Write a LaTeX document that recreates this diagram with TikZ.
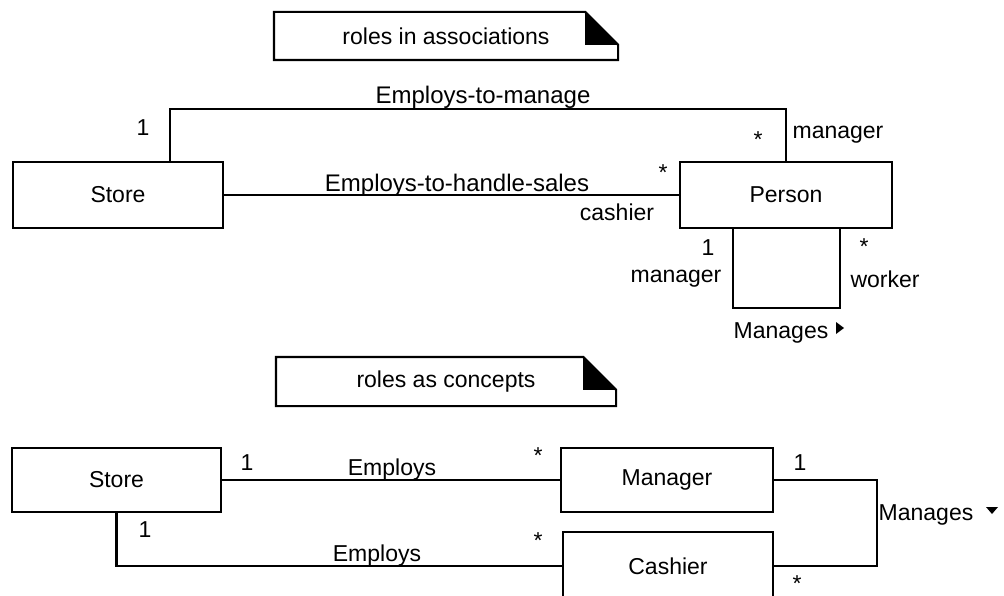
\documentclass[tikz,border=0pt]{standalone}
\usepackage{fontspec}
\setmainfont{Liberation Sans}
\begin{document}
\begin{tikzpicture}[x=1pt,y=-1pt,line width=2.2pt,
  every node/.style={font=\fontsize{23}{27}\selectfont,inner sep=0pt},
  cls/.style={draw,line width=2.2pt,minimum width=#1,minimum height=66pt},
  lbl/.style={anchor=center},
  assoc/.style={anchor=base},
  biglbl/.style={font=\fontsize{24}{28}\selectfont},
  notebox/.style={minimum width=342pt,minimum height=46pt}]
\useasboundingbox (0,0) rectangle (1004,596);
\begin{scope}
\clip (0,0) rectangle (1004,596);
% ---------- roles in associations ----------
\node[notebox] (note1) at (446,36) {roles in associations};
\draw (note1.north west) -- ([xshift=-33pt]note1.north east) -- ([yshift=-33pt]note1.north east) -- (note1.south east) -- (note1.south west) -- cycle;
\fill ([xshift=-33pt]note1.north east) -- ([xshift=-33pt,yshift=-33pt]note1.north east) -- ([yshift=-33pt]note1.north east) -- cycle;

\node[cls=210pt] (store1) at (118,195) {Store};
\node[cls=212pt] (person) at (786,195) {Person};

\draw ([xshift=52pt]store1.north) -- ++(0,-52) -| (person.north);
\draw (store1.east) -- (person.west);
\draw ([xshift=-53pt]person.south) -- ++(0,79) -| ([xshift=54pt]person.south);

\node[assoc,biglbl] (em1) at (483,104) {Employs-to-manage};
\node[assoc,biglbl] (eh1) at (457,192) {Employs-to-handle-sales};
\node[lbl] (m1a) at (143,128) {1};
\node[lbl] (m1b) at (758,140) {*};
\node[lbl] (r1b) at (838,135) {manager};
\node[lbl] (m2b) at (663,173) {*};
\node[lbl] (r2b) at (617,212) {cashier};
\node[lbl] (m3a) at (708,248) {1};
\node[lbl] (r3a) at (676,279) {manager};
\node[lbl] (m3b) at (864,247) {*};
\node[lbl] (r3b) at (885,279) {worker};
\node[lbl] (mg1) at (781,333) {Manages};
\fill (836,322) -- (844,328) -- (836,334) -- cycle;

% ---------- roles as concepts ----------
\node[notebox,minimum width=338pt,minimum height=47pt] (note2) at (446,381.5) {roles as concepts};
\draw (note2.north west) -- ([xshift=-33pt]note2.north east) -- ([yshift=-33pt]note2.north east) -- (note2.south east) -- (note2.south west) -- cycle;
\fill ([xshift=-33pt]note2.north east) -- ([xshift=-33pt,yshift=-33pt]note2.north east) -- ([yshift=-33pt]note2.north east) -- cycle;

\node[cls=209pt,minimum height=64pt] (store2) at (116.5,480) {Store};
\node[cls=212pt,minimum height=64pt] (manager) at (667,480) {Manager};
\node[cls=210pt,minimum height=68pt] (cashier) at (668,566) {Cashier};

\draw (store2.east) -- (manager.west);
\draw (store2.south) |- (cashier.west);
\draw (manager.east) -- (877,480) |- (cashier.east);

\node[assoc] (e2a) at (392,475) {Employs};
\node[assoc] (e2b) at (377,561) {Employs};
\node[lbl] (n1) at (247,463) {1};
\node[lbl] (n2) at (538,456) {*};
\node[lbl] (n3) at (145,530) {1};
\node[lbl] (n4) at (538,541) {*};
\node[lbl] (n5) at (800,463) {1};
\node[lbl] (n6) at (797,584) {*};
\node[lbl] (mg2) at (926,515) {Manages};
\fill (986,507) -- (998,507) -- (992,514) -- cycle;
\end{scope}
\end{tikzpicture}
\end{document}
